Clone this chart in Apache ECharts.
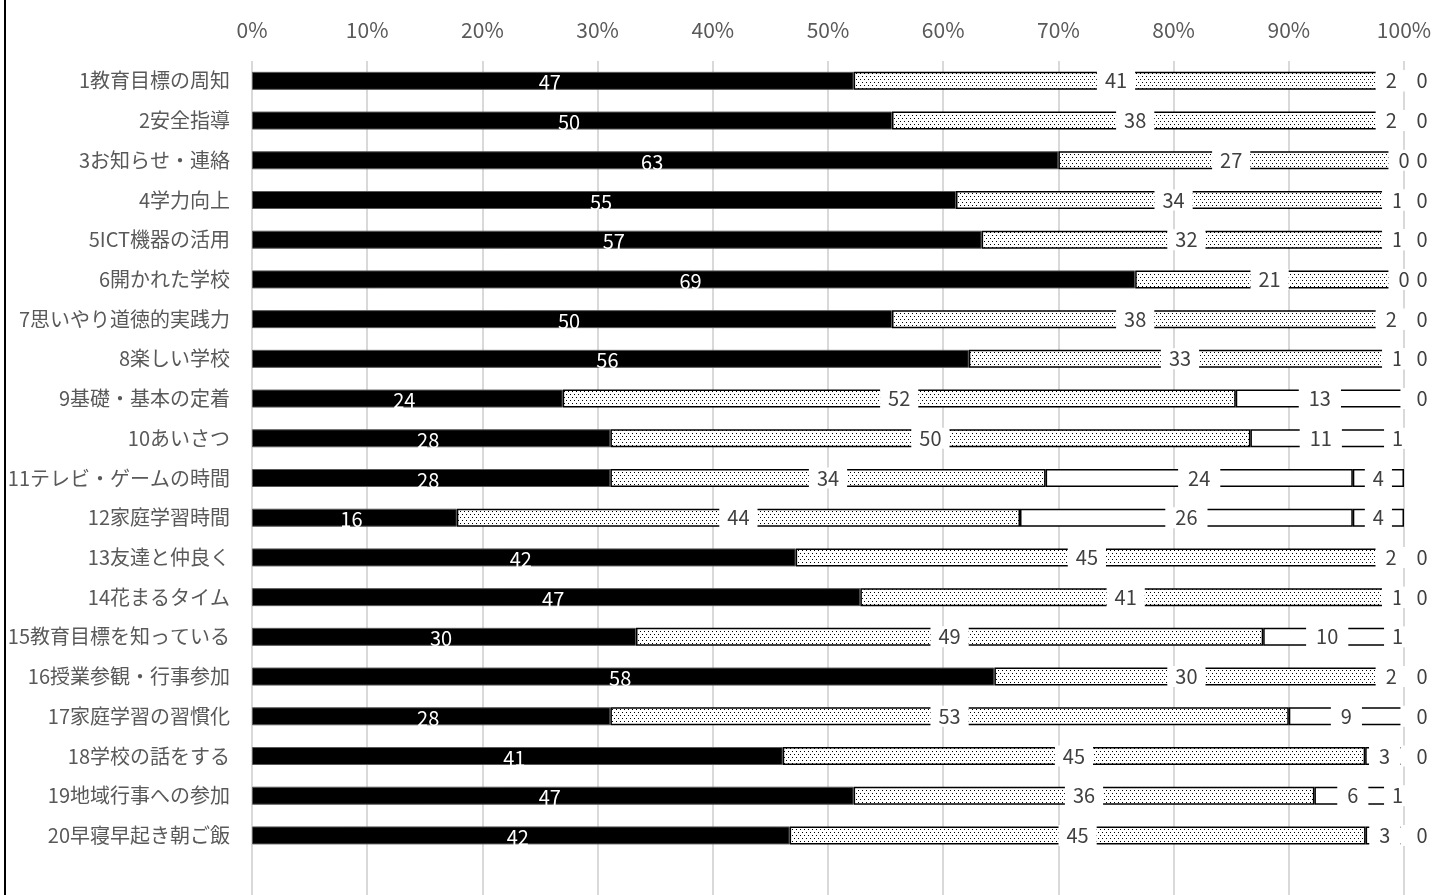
<!DOCTYPE html>
<html><head><meta charset="utf-8">
<script src="https://cdn.jsdelivr.net/npm/echarts@6/dist/echarts.min.js"></script>
<style>html,body{margin:0;padding:0;background:#fff}#c{width:1448px;height:895px}</style>
</head><body><div id="c"></div>
<script>
const categories = ['1教育目標の周知','2安全指導','3お知らせ・連絡','4学力向上','5ICT機器の活用','6開かれた学校','7思いやり道徳的実践力','8楽しい学校','9基礎・基本の定着','10あいさつ','11テレビ・ゲームの時間','12家庭学習時間','13友達と仲良く','14花まるタイム','15教育目標を知っている','16授業参観・行事参加','17家庭学習の習慣化','18学校の話をする','19地域行事への参加','20早寝早起き朝ご飯',''];
const s1 = [47,50,63,55,57,69,50,56,24,28,28,16,42,47,30,58,28,41,47,42];
const s2 = [41,38,27,34,32,21,38,33,52,50,34,44,45,41,49,30,53,45,36,45];
const s3 = [2,2,0,1,1,0,2,1,13,11,24,26,2,1,10,2,9,3,6,3];
const s4 = [0,0,0,0,0,0,0,0,0,1,4,4,0,0,1,0,0,0,1,0];

const totals = s1.map((v,i)=>v+s2[i]+s3[i]+s4[i]);
const pct = arr => arr.map((v,i)=>v/totals[i]*100);

const pc = document.createElement('canvas'); pc.width=4; pc.height=6;
const g = pc.getContext('2d');
g.fillStyle='#fff'; g.fillRect(0,0,4,6);
g.fillStyle='#000'; g.fillRect(0,1,1,1); g.fillRect(2,4,1,1);
const dotted = {image: pc, repeat: 'repeat'};

const FONT = '"Noto Sans CJK JP", "Noto Sans", sans-serif';
const darkLabel = {show:true, position:'inside', color:'#404040', fontSize:20, fontFamily:FONT,
  backgroundColor:'#fff', padding:[1,8,0,8]};
const s3Label = Object.assign({}, darkLabel, {padding:[1,10,0,10]});

function mk(name, arr, itemStyle, label, perItem){
  const p = pct(arr);
  return {
    name, type:'bar', stack:'a', barWidth:18, clip:false, itemStyle,
    label:Object.assign({}, label, {formatter: q => String(arr[q.dataIndex])}),
    data: p.map((v,i)=> perItem ? perItem(v, arr[i], i) : v),
    emphasis:{disabled:true}, animation:false
  };
}

const chart = echarts.init(document.getElementById('c'));
chart.setOption({
  backgroundColor:'#fff',
  animation:false,
  grid:{left:252, right:44, top:61, bottom:0, containLabel:false},
  xAxis:{type:'value', position:'top', min:0, max:100, interval:10,
    axisLabel:{formatter:'{value}%', color:'#595959', fontSize:21, fontFamily:FONT, margin:20},
    axisLine:{show:false}, axisTick:{show:false},
    splitLine:{show:true, lineStyle:{color:'#d9d9d9', width:2}}},
  yAxis:{type:'category', inverse:true, data:categories,
    axisLabel:{color:'#595959', fontSize:20, fontFamily:FONT, margin:22},
    axisLine:{show:false}, axisTick:{show:false}, splitLine:{show:false}},
  graphic:[{type:'line', shape:{x1:5,y1:0,x2:5,y2:895}, style:{stroke:'#000', lineWidth:2}, z:100}],
  series:[
    mk('s1', s1, {color:'#000', borderColor:'#595959', borderWidth:1},
      {show:true, position:'inside', color:'#fff', fontSize:20, fontFamily:FONT, offset:[-3,2]}),
    mk('s2', s2, {color:dotted, borderColor:'#000', borderWidth:1.5}, darkLabel),
    mk('s3', s3, {color:'#fff', borderColor:'#000', borderWidth:1.5}, s3Label,
      (v, raw) => raw === 0 ? {value:v, itemStyle:{borderWidth:0}} : v),
    mk('s4', s4, {color:'#fff', borderColor:'#000', borderWidth:1.5}, darkLabel,
      (v, raw, i) => raw === 0 ? {value:v, itemStyle:{borderWidth:0},
        label:{offset:[18,0], padding: s3[i] === 0 ? 0 : [1,16,0,16],
               backgroundColor: s3[i] === 0 ? 'transparent' : '#fff'}} : v)
  ]
});
</script></body></html>
